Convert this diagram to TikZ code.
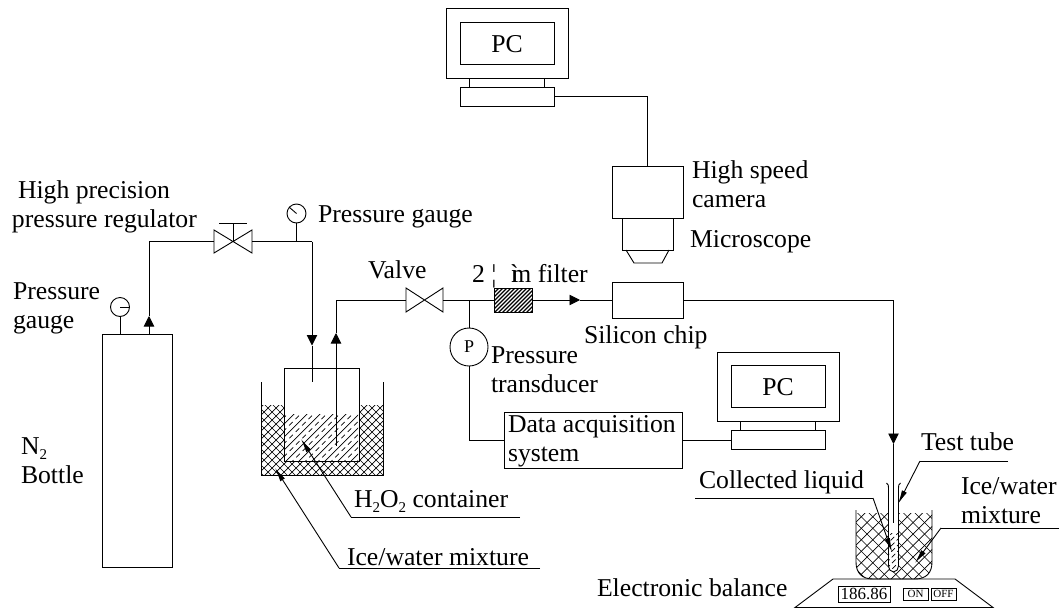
\documentclass[tikz,border=0pt]{standalone}
\usepackage{fontspec}
\setmainfont{Liberation Serif}
\usetikzlibrary{arrows.meta}
\newcommand{\lowtwo}{\raisebox{-5pt}{\fontsize{15}{15}\selectfont 2}}
\tikzset{
  lbl/.style={anchor=base west,inner sep=0pt,outer sep=0pt,font=\fontsize{25.7}{29}\selectfont},
  box/.style={draw,rectangle,inner sep=0pt,outer sep=0pt},
  hole/.style={rectangle,inner sep=0pt,outer sep=0pt},
  gauge/.style={draw,circle,minimum size=19pt,inner sep=0pt,outer sep=0pt},
  flowtip/.style={-{Triangle[length=10.5pt,width=10.5pt]}},
  leadtip/.style={-{Latex[length=14pt,width=5.5pt]}},
  hatchline/.style={line width=0.7pt}
}
\begin{document}
\begin{tikzpicture}[x=1pt,y=-1pt,line width=0.9pt]
\useasboundingbox (0,0) rectangle (1060,608);

% left ice bath
\begin{scope}
  \clip (261,405) rectangle (383,475);
  \foreach \s in {0,8,...,208} {
    \draw[hatchline] (\s+260,400) -- ++(-80,80);
    \draw[hatchline] (\s+180,400) -- ++(80,80);
  }
\end{scope}
\draw (261,382) -- (261,475) -- (383,475) -- (383,382);
\node[box,fill=white,minimum width=75pt,minimum height=93pt] (cont) at (321.5,414.5) {};
\begin{scope}
  \clip (285,414) rectangle (358,460.5);
  \foreach \s in {0,13,...,156} {
    \draw[hatchline] (\s+225,470) -- ++(60,-60);
    \draw[hatchline,dash pattern=on 5pt off 4pt] (\s+231.5,470) -- ++(60,-60);
  }
\end{scope}

% right ice bath
\begin{scope}
  \clip (856,513) -- (856,562) .. controls (856,573) and (862,579) .. (873,579) -- (915,579) .. controls (926,579) and (932,573) .. (932,562) -- (932,513) -- cycle;
  \foreach \s in {0,11.5,...,240} {
    \draw[hatchline] (\s+850,505) -- ++(-85,85);
    \draw[hatchline] (\s+700,505) -- ++(85,85);
  }
\end{scope}
\draw (856,510) -- (856,562) .. controls (856,573) and (862,579) .. (873,579) -- (915,579) .. controls (926,579) and (932,573) .. (932,562) -- (932,510);
\fill[white] (888.5,500) -- (888.5,566) .. controls (888.5,569) and (890.5,572) .. (893.5,572) .. controls (896.5,572) and (898.5,569) .. (898.5,566) -- (898.5,500) -- cycle;
\begin{scope}
  \clip (888.5,533) -- (888.5,566) .. controls (888.5,569) and (890.5,572) .. (893.5,572) .. controls (896.5,572) and (898.5,569) .. (898.5,566) -- (898.5,533) -- cycle;
  \foreach \s in {0,6,...,60} {
    \draw[hatchline,dash pattern=on 5pt off 3pt] (\s+845,580) -- ++(50,-50);
  }
\end{scope}
\draw (886.5,483) .. controls (888.5,484) and (888.5,486) .. (888.5,488) -- (888.5,566) .. controls (888.5,569) and (890.5,572) .. (893.5,572) .. controls (896.5,572) and (898.5,569) .. (898.5,566) -- (898.5,488) .. controls (898.5,486) and (898.5,484) .. (900.5,483);

% PCs
\node[box,minimum width=122pt,minimum height=70pt] (pcA) at (507,43) {};
\node[box,minimum width=94pt,minimum height=42pt] (pcAs) at (507,43) {};
\node[hole,anchor=center,font=\fontsize{25.7}{29}\selectfont] (pcAt) at (507,44) {PC};
\node[box,minimum width=94pt,minimum height=19pt] (pcAb) at (507,96.5) {};
\coordinate (pcAl1) at (469,78); \coordinate (pcAl2) at (469,87);
\coordinate (pcAr1) at (544,78); \coordinate (pcAr2) at (544,87);
\draw (pcAl1) -- (pcAl2); \draw (pcAr1) -- (pcAr2);

\node[box,minimum width=122pt,minimum height=69pt] (pcB) at (778,386.5) {};
\node[box,minimum width=94pt,minimum height=42pt] (pcBs) at (778,386) {};
\node[hole,anchor=center,font=\fontsize{25.7}{29}\selectfont] (pcBt) at (778,387) {PC};
\node[box,minimum width=94pt,minimum height=19pt] (pcBb) at (778,440) {};
\coordinate (pcBl1) at (740.5,421); \coordinate (pcBl2) at (740.5,430.5);
\coordinate (pcBr1) at (815.5,421); \coordinate (pcBr2) at (815.5,430.5);
\draw (pcBl1) -- (pcBl2); \draw (pcBr1) -- (pcBr2);

% camera and microscope
\node[box,minimum width=70.5pt,minimum height=52pt] (cam) at (647.75,192) {};
\node[box,minimum width=51pt,minimum height=32pt] (mscope) at (647.5,234) {};
\coordinate (lensA) at (626,250); \coordinate (lensB) at (634,263);
\coordinate (lensC) at (662,263); \coordinate (lensD) at (669,250);
\draw (lensA) -- (lensB) -- (lensC) -- (lensD);
\coordinate (camTurn) at (647.75,96.5);
\draw (pcAb.east) -- (camTurn) -- (cam.north);

% bottle
\node[box,minimum width=70.5pt,minimum height=233pt] (bottle) at (137.25,450.5) {};
\node[gauge] (g1) at (120,307) {};
\coordinate (g1base) at (120,334);
\coordinate (g1n) at (129.5,307);
\draw (g1.south) -- (g1base);
\draw (g1.center) -- (g1n);

% regulator valve
\node[hole,minimum width=38pt,minimum height=23pt] (reg) at (233,241.5) {};
\draw (reg.north west) -- (reg.south east) -- (reg.north east) -- (reg.south west) -- cycle;
\coordinate (regTop) at (233,223);
\coordinate (regBarL) at (219,223); \coordinate (regBarR) at (247,223);
\draw (reg.center) -- (regTop); \draw (regBarL) -- (regBarR);
\node[gauge] (g2) at (296.5,213.5) {};
\coordinate (g2base) at (296.5,241.5);
\coordinate (g2n) at (289,207);
\draw (g2.south) -- (g2base);
\draw (g2.center) -- (g2n);

% N2 line
\coordinate (botOut) at (149,334);
\coordinate (botArrow) at (149,316);
\coordinate (botTurn) at (149,241.5);
\draw[flowtip] (botOut) -- (botArrow);
\draw (botArrow) -- (botTurn) -- (reg.west);

% line to container
\coordinate (inTurn) at (312,241.5);
\coordinate (inArrow) at (312,345.5);
\coordinate (inEnd) at (312,382);
\draw (reg.east) -- (inTurn);
\draw[flowtip] (inTurn) -- (inArrow);
\draw (inArrow) -- (inEnd);

% line from container
\node[hole,minimum width=37pt,minimum height=24pt] (v1) at (424.5,300) {};
\draw (v1.north west) -- (v1.south east) -- (v1.north east) -- (v1.south west) -- cycle;
\coordinate (outEnd) at (336,446);
\coordinate (outArrow) at (336,333);
\coordinate (outTurn) at (336,300);
\draw[flowtip] (outEnd) -- (outArrow);
\draw (outArrow) -- (outTurn) -- (v1.west);

% filter
\node[box,minimum width=38pt,minimum height=24pt] (filt) at (513,300) {};
\begin{scope}
  \clip (494,288) rectangle (532,312);
  \foreach \s in {0,4,...,68} {
    \draw[line width=1.3pt] (\s+464,315) -- ++(30,-30);
  }
\end{scope}
\draw (494,288) rectangle (532,312);
\coordinate (tee) at (469,300);
\draw (v1.east) -- (filt.west);

% pressure transducer
\node[draw,circle,minimum size=38pt,inner sep=0pt,outer sep=0pt] (P) at (469,347) {};
\node[hole,font=\fontsize{18}{20}\selectfont] (Pt) at (469,347) {P};
\draw (tee) -- (P.north);
\node[box,minimum width=178pt,minimum height=56pt] (daq) at (593,440) {};
\coordinate (pTurn) at (469,440);
\draw (P.south) -- (pTurn) -- (daq.west);
\draw (daq.east) -- (pcBb.west);

% silicon chip
\node[box,minimum width=71pt,minimum height=36pt] (chip) at (647.5,300) {};
\coordinate (fArrow) at (580,300);
\draw[flowtip] (filt.east) -- (fArrow);
\draw (fArrow) -- (chip.west);
\coordinate (chipTurn) at (893.5,300);
\coordinate (chipArrow) at (893.5,444);
\coordinate (chipEnd) at (893.5,523);
\draw (chip.east) -- (chipTurn);
\draw[flowtip] (chipTurn) -- (chipArrow);
\draw (chipArrow) -- (chipEnd);

% balance
\coordinate (balA) at (795,607.5); \coordinate (balB) at (833,579);
\coordinate (balC) at (955,579); \coordinate (balD) at (993,607.5);
\draw (balA) -- (balB) -- (balC) -- (balD) -- cycle;
\node[box,minimum width=52pt,minimum height=16pt,font=\fontsize{17}{19}\selectfont] (disp) at (864,594) {186.86};
\node[box,minimum width=25pt,minimum height=12pt,font=\fontsize{11}{12}\selectfont] (on) at (915.5,594) {ON};
\node[box,minimum width=25pt,minimum height=12pt,font=\fontsize{11}{12}\selectfont] (off) at (943.5,594) {OFF};

% leaders
\coordinate (l1a) at (520,517); \coordinate (l1b) at (351,517); \coordinate (l1c) at (301,439);
\draw (l1a) -- (l1b); \draw[leadtip] (l1b) -- (l1c);
\coordinate (l2a) at (540,568); \coordinate (l2b) at (339,568); \coordinate (l2c) at (275,468);
\draw (l2a) -- (l2b); \draw[leadtip] (l2b) -- (l2c);
\coordinate (l3a) at (1008,461); \coordinate (l3b) at (920,461); \coordinate (l3c) at (898,504);
\draw (l3a) -- (l3b); \draw[leadtip] (l3b) -- (l3c);
\coordinate (l4a) at (1059,528); \coordinate (l4b) at (941,528); \coordinate (l4c) at (915,563);
\draw (l4a) -- (l4b); \draw[leadtip] (l4b) -- (l4c);
\coordinate (l5a) at (695,498); \coordinate (l5b) at (873,498); \coordinate (l5c) at (892,552);
\draw (l5a) -- (l5b); \draw[leadtip] (l5b) -- (l5c);

% labels
\node[lbl] (t1) at (18,198) {High precision};
\node[lbl] (t2) at (12,227) {pressure regulator};
\node[lbl] (t3) at (13,299) {Pressure};
\node[lbl] (t4) at (13,328) {gauge};
\node[lbl] (t5) at (318,222) {Pressure gauge};
\node[lbl] (t6) at (368,278) {Valve};
\node[lbl] (t7) at (472,282) {2 ¦\hspace{15pt}\rlap{ì}m filter};
\node[lbl] (t8) at (692,178) {High speed};
\node[lbl] (t9) at (692,207) {camera};
\node[lbl] (t10) at (690,247) {Microscope};
\node[lbl] (t11) at (584,343) {Silicon chip};
\node[lbl] (t12) at (491,363) {Pressure};
\node[lbl] (t13) at (491,392) {transducer};
\node[lbl] (t14) at (508,432) {Data acquisition};
\node[lbl] (t15) at (508,461) {system};
\node[lbl] (t16) at (354,507) {H\lowtwo O\lowtwo{} container};
\node[lbl] (t17) at (347,565) {Ice/water mixture};
\node[lbl] (t18) at (921,450) {Test tube};
\node[lbl] (t19) at (961,494) {Ice/water};
\node[lbl] (t20) at (961,523) {mixture};
\node[lbl] (t21) at (699,488) {Collected liquid};
\node[lbl] (t22) at (597,596) {Electronic balance};
\node[lbl] (t23) at (21,454) {N\lowtwo};
\node[lbl] (t24) at (21,483) {Bottle};
\end{tikzpicture}
\end{document}
